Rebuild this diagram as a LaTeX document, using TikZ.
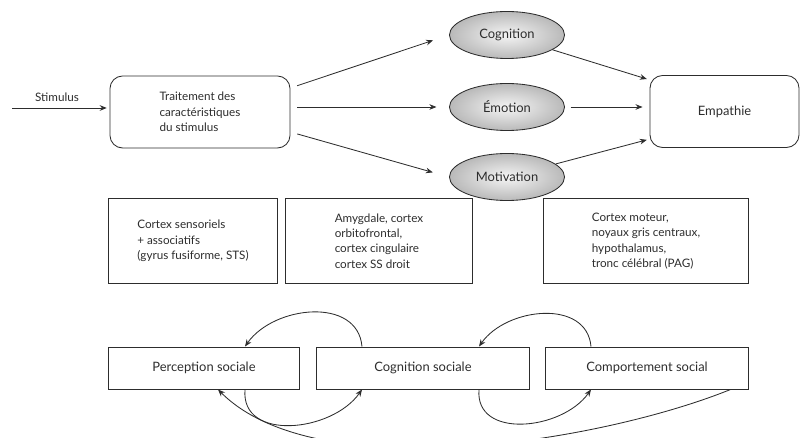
\documentclass[tikz,border=0pt]{standalone}
\usepackage{fontspec}
\setmainfont{Lato}
\usetikzlibrary{shapes.geometric, arrows.meta, positioning, calc}
\definecolor{inkgray}{RGB}{45, 45, 45}

\begin{document}
\begin{tikzpicture}[x=0.025cm, y=-0.025cm,
  every node/.style={font=\fontsize{8.3}{11}\selectfont, text=inkgray},
  bigtext/.style={font=\fontsize{9.2}{11}\selectfont},
  flowbox/.style={draw=inkgray, line width=0.6pt, rounded corners=9pt, minimum height=1.8cm},
  stage/.style={ellipse, draw=inkgray, line width=0.6pt, inner color=gray!8, outer color=gray!55, minimum width=2.875cm, minimum height=1.175cm, bigtext},
  areabox/.style={draw=inkgray, line width=0.7pt, minimum height=2.1cm, align=left},
  socbox/.style={draw=inkgray, line width=0.7pt, minimum height=1.05cm, bigtext},
  link/.style={draw=inkgray, line width=0.6pt, -{Stealth[length=5pt, width=4pt]}}
]
  \useasboundingbox (0,0) rectangle (801,438);

  % Stimulus chain
  \coordinate (in) at (12,108);
  \node (stim) at (57,97) {Stimulus};
  \node[flowbox, minimum width=4.5cm, align=left] (trait) at (200,112) {Traitement des\\caractéristiques\\du stimulus};
  \node[stage] (cog) at (507,35) {Cognition};
  \node[stage] (emo) at (507,107) {Émotion};
  \node[stage] (mot) at (507,177) {Motivation};
  \node[flowbox, minimum width=3.725cm, bigtext] (emp) at (724.5,111.5) {Empathie};

  \draw[link, shorten >=2pt] (in) -- (in -| trait.west);
  \draw[link, shorten <=5pt, shorten >=12pt] ([yshift=0.6cm]trait.east) -- (cog.west);
  \draw[link, shorten <=5pt, shorten >=9pt] (trait.east |- emo.west) -- (emo.west);
  \draw[link, shorten <=5pt, shorten >=12pt] ([yshift=-0.5cm]trait.east) -- (mot.west);
  \draw[link, shorten >=2pt] (cog.-18) -- ([yshift=-0.12cm]emp.north west);
  \draw[link, shorten <=4pt, shorten >=5pt] (emo.east) -- (emo.east -| emp.west);
  \draw[link, shorten >=2pt] (mot.15) -- ([yshift=0.22cm]emp.south west);

  % Brain areas
  \node[areabox, minimum width=4.2cm] (sens) at (193,241) {Cortex sensoriels\\+ associatifs\\(gyrus fusiforme, STS)};
  \node[areabox, minimum width=4.65cm] (limb) at (379,241) {Amygdale, cortex\\orbitofrontal,\\cortex cingulaire\\cortex SS droit};
  \node[areabox, minimum width=5.1cm] (mote) at (646,241) {Cortex moteur,\\noyaux gris centraux,\\hypothalamus,\\tronc célébral (PAG)};

  % Social loop
  \node[socbox, minimum width=4.75cm] (perc) at (204,368) {Perception sociale};
  \node[socbox, minimum width=5.3cm] (csoc) at (423,368) {Cognition sociale};
  \node[socbox, minimum width=5.05cm] (comp) at (647,368) {Comportement social};

  \draw[link] ([xshift=-1.525cm]csoc.north) to[out=95, in=55, looseness=1.1] ([xshift=1.025cm]perc.north);
  \draw[link] ([xshift=-1.4cm]comp.north) to[out=95, in=55, looseness=1.1] ([xshift=1.4cm]csoc.north);
  \draw[link] ([xshift=1.025cm]perc.south) to[out=-95, in=-125, looseness=1.15] ([xshift=-1.525cm]csoc.south);
  \draw[link] ([xshift=1.4cm]csoc.south) to[out=-95, in=-125, looseness=1.15] ([xshift=-1.4cm]comp.south);
  \draw[link] ([xshift=-0.45cm]comp.south east) to[out=-158, in=-45, looseness=0.7] ([xshift=0.35cm]perc.south);
\end{tikzpicture}
\end{document}
